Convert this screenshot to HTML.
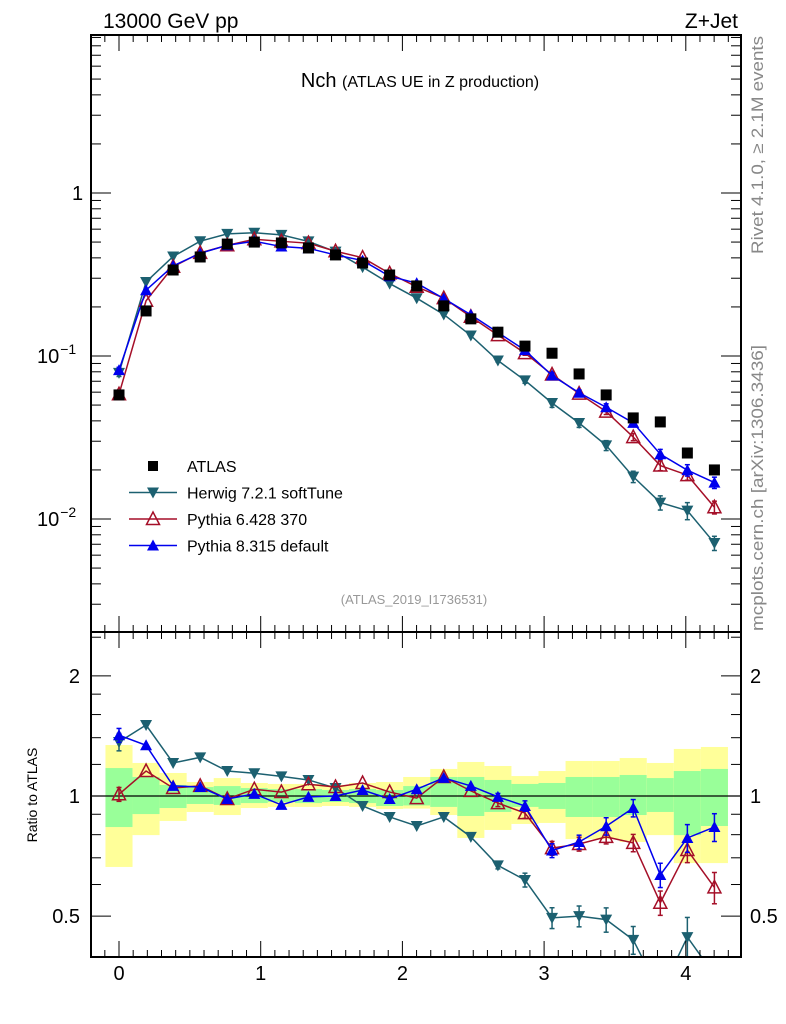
<!DOCTYPE html>
<html><head><meta charset="utf-8"><style>
html,body{margin:0;padding:0;background:#fff}
svg{display:block;font-family:"Liberation Sans",sans-serif}
</style></head><body>
<svg id="c" width="786" height="1024" xmlns="http://www.w3.org/2000/svg">
<text x="103" y="28" font-size="21">13000 GeV pp</text>
<text x="738" y="28" font-size="21" text-anchor="end">Z+Jet</text>
<text x="420" y="87" font-size="20" text-anchor="middle">Nch <tspan font-size="16">(ATLAS UE in Z production)</tspan></text>
<text x="414" y="604" font-size="13" fill="#999" text-anchor="middle">(ATLAS_2019_I1736531)</text>
<text transform="translate(763,36) rotate(-90)" font-size="16.5" fill="#888" text-anchor="end" textLength="218" lengthAdjust="spacingAndGlyphs">Rivet 4.1.0, ≥ 2.1M events</text>
<text transform="translate(763,631) rotate(-90)" font-size="16.5" fill="#888" textLength="286" lengthAdjust="spacingAndGlyphs">mcplots.cern.ch [arXiv:1306.3436]</text>
<text transform="translate(37,795) rotate(-90)" font-size="14" text-anchor="middle">Ratio to ATLAS</text>
</svg>
<script>
const xs = [0,0.191,0.382,0.573,0.764,0.955,1.146,1.337,1.528,1.719,1.91,2.101,2.292,2.483,2.674,2.865,3.056,3.247,3.438,3.629,3.82,4.011,4.202];
const atlas = [0.0577,0.189,0.337,0.405,0.486,0.50,0.494,0.46,0.417,0.372,0.314,0.269,0.203,0.169,0.140,0.115,0.104,0.0776,0.0577,0.0417,0.0394,0.0254,0.020];
const herwigRatio = [1.366,1.506,1.21,1.25,1.155,1.14,1.12,1.097,1.047,0.944,0.886,0.841,0.886,0.79,0.67,0.616,0.495,0.5,0.49,0.436,0.32,0.443,0.356];
const py6Ratio = [1.01,1.155,1.047,1.06,0.983,1.04,1.023,1.07,1.053,1.078,1.023,0.988,1.116,1.03,0.96,0.906,0.74,0.758,0.79,0.763,0.54,0.732,0.59];
const py8Ratio = [1.42,1.34,1.06,1.053,0.983,1.012,0.95,0.995,1.0,1.035,0.983,1.04,1.11,1.06,0.995,0.944,0.73,0.767,0.84,0.933,0.634,0.785,0.836];
const herwigErr = [0.05,0,0,0,0,0,0,0,0,0,0,0,0,0,0.02,0.04,0.06,0.06,0.07,0.08,0.1,0.12,0.1];
const py6Err = [0.04,0,0,0,0,0,0,0,0,0,0,0,0,0,0.02,0.03,0.04,0.04,0.04,0.05,0.07,0.07,0.09];
const py8Err = [0.04,0,0,0,0,0,0,0,0,0,0,0,0,0,0.02,0.03,0.04,0.04,0.05,0.05,0.07,0.08,0.08];
const yellowHi = [1.342,1.21,1.142,1.084,1.109,1.078,1.072,1.072,1.066,1.078,1.084,1.116,1.169,1.217,1.189,1.122,1.155,1.224,1.224,1.245,1.21,1.312,1.327];
const yellowLo = [0.664,0.798,0.866,0.912,0.896,0.933,0.939,0.939,0.944,0.939,0.928,0.93,0.896,0.785,0.822,0.851,0.856,0.78,0.78,0.767,0.798,0.679,0.679];
const greenHi = [1.175,1.116,1.066,1.053,1.059,1.047,1.041,1.041,1.035,1.041,1.035,1.059,1.116,1.116,1.097,1.072,1.078,1.116,1.116,1.129,1.109,1.155,1.169];
const greenLo = [0.836,0.901,0.933,0.955,0.95,0.96,0.966,0.96,0.966,0.96,0.944,0.947,0.939,0.891,0.912,0.939,0.928,0.886,0.886,0.896,0.912,0.798,0.841];
const xTicks = [0,1,2,3,4];
const ratioTicks = [0.5,1,2];

const NS="http://www.w3.org/2000/svg";
const svg=document.getElementById('c');
const L=91,R=741,T=35,M=632,B=957;
const X=v=>119+v*141.7;
const Ym=v=>193-163*Math.log10(v);
const Yr=v=>796-399*Math.log10(v);
function mk(tag,attrs,parent){const e=document.createElementNS(NS,tag);for(const k in attrs)e.setAttribute(k,attrs[k]);(parent||svg).appendChild(e);return e;}
const hw=0.0955;

const bands=mk('g',{});


xs.forEach((x,i)=>{
  const y=mk('rect',{x:X(x-hw),y:Yr(yellowHi[i]),width:X(x+hw)-X(x-hw),height:Yr(yellowLo[i])-Yr(yellowHi[i]),fill:'#ffff99'},bands);
  
  
  const g=mk('rect',{x:X(x-hw),y:Yr(greenHi[i]),width:X(x+hw)-X(x-hw),height:Yr(greenLo[i])-Yr(greenHi[i]),fill:'#99ff99'},bands);
  
  
});
mk('line',{x1:L,x2:R,y1:Yr(1),y2:Yr(1),stroke:'#000','stroke-width':1.3});

const defs=mk('defs',{});
const c1=mk('clipPath',{id:'cm'},defs);mk('rect',{x:L,y:T,width:R-L,height:M-T},c1);
const c2=mk('clipPath',{id:'cr'},defs);mk('rect',{x:L,y:M,width:R-L,height:B-M},c2);

function marker(g,type,cx,cy,col){
  if(type==='down') return mk('polygon',{points:`${cx-6},${cy-5} ${cx+6},${cy-5} ${cx},${cy+6}`,fill:col},g);
  if(type==='up') return mk('polygon',{points:`${cx-6},${cy+5} ${cx+6},${cy+5} ${cx},${cy-6}`,fill:col},g);
  if(type==='open') return mk('polygon',{points:`${cx-6.5},${cy+5.5} ${cx+6.5},${cy+5.5} ${cx},${cy-7}`,fill:'none',stroke:col,'stroke-width':1.5},g);
  return mk('rect',{x:cx-5.5,y:cy-5.5,width:11,height:11,fill:col},g);
}
const series=[
  {name:'herwig',ratio:herwigRatio,err:herwigErr,col:'#1c6070',m:'down'},
  {name:'pythia6',ratio:py6Ratio,err:py6Err,col:'#a50f28',m:'open'},
  {name:'pythia8',ratio:py8Ratio,err:py8Err,col:'#0000ee',m:'up'}
];
series.forEach(s=>{
  [['main',Ym,'cm'],['ratio',Yr,'cr']].forEach(([panel,Yf,clip])=>{
    const g=mk('g',{'clip-path':`url(#${clip})`});
    
    
    const vals=xs.map((x,i)=>panel==='main'?atlas[i]*s.ratio[i]:s.ratio[i]);
    mk('polyline',{points:xs.map((x,i)=>X(x)+','+Yf(vals[i])).join(' '),fill:'none',stroke:s.col,'stroke-width':1.5},g);
    xs.forEach((x,i)=>{
      const v=vals[i],e=s.err[i]*v;
      if(e>0){
        const cx=X(x);
        mk('line',{x1:cx,x2:cx,y1:Yf(v+e),y2:Yf(Math.max(v-e,1e-4)),stroke:s.col,'stroke-width':1.5},g);
        mk('line',{x1:cx-2.5,x2:cx+2.5,y1:Yf(v+e),y2:Yf(v+e),stroke:s.col,'stroke-width':1.5},g);
        mk('line',{x1:cx-2.5,x2:cx+2.5,y1:Yf(v-e),y2:Yf(v-e),stroke:s.col,'stroke-width':1.5},g);
      }
      const p=marker(g,s.m,X(x),Yf(v),s.col);
      
      
    });
  });
});
const ag=mk('g',{'clip-path':'url(#cm)'});


xs.forEach((x,i)=>{
  const p=marker(ag,'sq',X(x),Ym(atlas[i]),'#000');
  
  
});

const fr=mk('g',{fill:'none',stroke:'#000','stroke-width':2});


mk('rect',{x:L,y:T,width:R-L,height:M-T},fr);
mk('rect',{x:L,y:M,width:R-L,height:B-M},fr);
const tk=mk('g',{stroke:'#000','stroke-width':1});


for(let k=-1;k<=43;k++){
  const v=k/10,px=X(v);if(px<L+1||px>R-1)continue;
  const major=k%10===0,len=major?16:7;
  [[T,1],[M,-1],[M,1],[B,-1]].forEach(([y0,d])=>mk('line',{x1:px,x2:px,y1:y0,y2:y0+d*len},tk));
}
xTicks.forEach(v=>{
  const t=mk('text',{x:X(v),y:980,'font-size':20,'text-anchor':'middle'});t.textContent=v;
  
  
});
for(let e=-3;e<=0;e++){for(let m=1;m<=9;m++){
  const v=m*Math.pow(10,e),py=Ym(v);if(py<T+1||py>M-1)continue;
  const len=m===1?20:10;
  mk('line',{x1:L,x2:L+len,y1:py,y2:py},tk);mk('line',{x1:R,x2:R-len,y1:py,y2:py},tk);
}}
const ml=[[1,'1',''],[0.1,'10','−1'],[0.01,'10','−2']];
ml.forEach(([v,b,ex])=>{
  const t=mk('text',{x:ex?37:72,y:Ym(v)+7,'font-size':20});
  t.textContent=b;
  if(ex){const ts=mk('tspan',{dy:-9,dx:1,'font-size':14},t);ts.textContent=ex;}
  
  
});
[0.5,0.6,0.7,0.8,0.9,1,1.2,1.4,1.6,1.8,2,2.5].forEach(v=>{
  const py=Yr(v);if(py<M+1||py>B-1)return;
  const len=(v===0.5||v===1||v===2)?20:10;
  mk('line',{x1:L,x2:L+len,y1:py,y2:py},tk);mk('line',{x1:R,x2:R-len,y1:py,y2:py},tk);
});
ratioTicks.forEach(v=>{
  const t=mk('text',{x:80,y:Yr(v)+7,'font-size':20,'text-anchor':'end'});t.textContent=v;
  
  
  const t2=mk('text',{x:750,y:Yr(v)+7,'font-size':20});t2.textContent=v;
  
  
});
const lg=mk('g',{});


const lab=[['ATLAS','#000','sq'],['Herwig 7.2.1 softTune','#1c6070','down'],['Pythia 6.428 370','#a50f28','open'],['Pythia 8.315 default','#0000ee','up']];
lab.forEach(([txt,col,m],i)=>{
  const y=466+i*26.5;
  const e=mk('g',{},lg);
  
  
  if(m!=='sq')mk('line',{x1:129,x2:177,y1:y,y2:y,stroke:col,'stroke-width':1.5},e);
  if(m==='sq')mk('rect',{x:148,y:y-5,width:10,height:10,fill:col},e);else marker(e,m,153,y,col);
  const t=mk('text',{x:187,y:y+6,'font-size':16},e);t.textContent=txt;
});
</script>
</body></html>
